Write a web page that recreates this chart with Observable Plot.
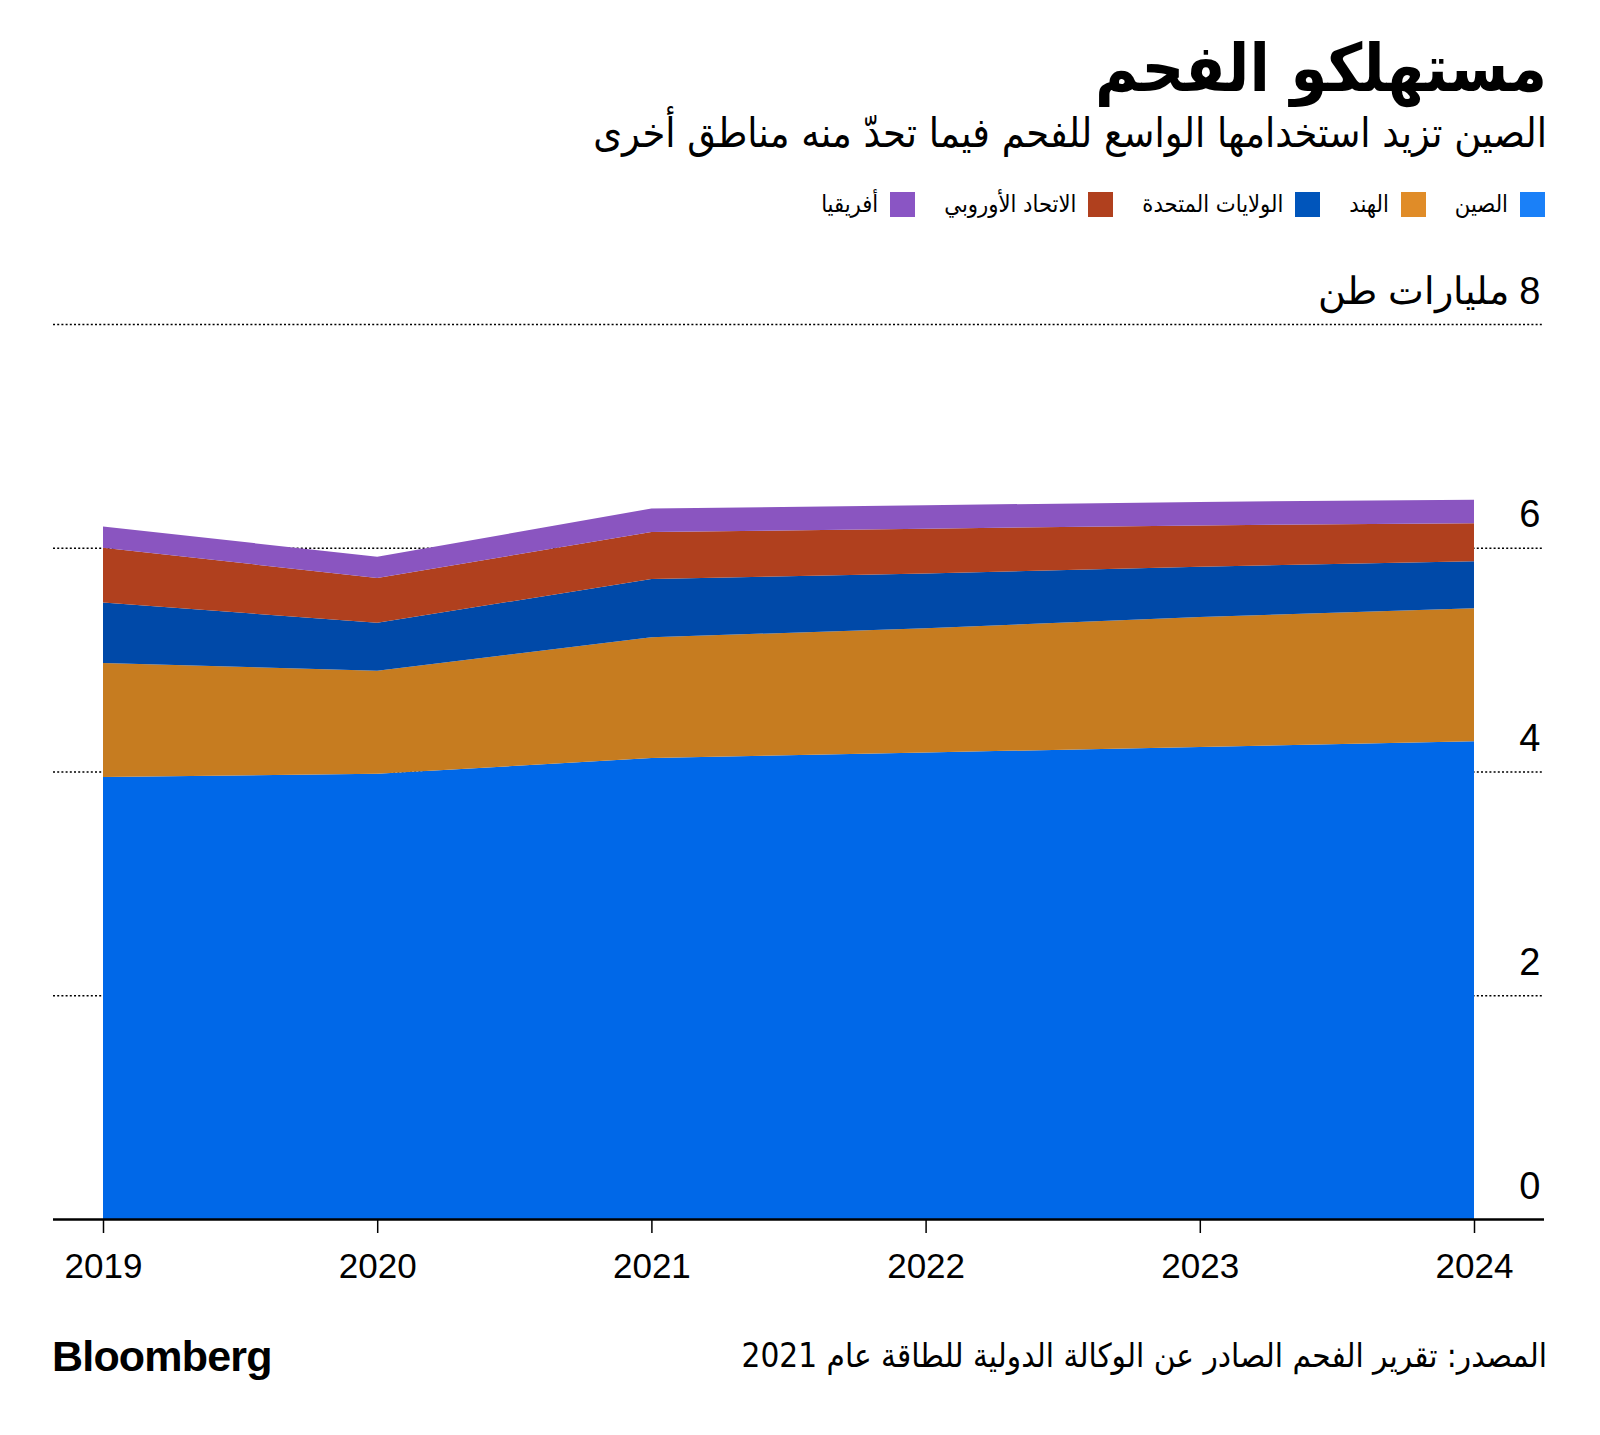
<!DOCTYPE html>
<html>
<head>
<meta charset="utf-8">
<script src="https://cdn.jsdelivr.net/npm/d3@7"></script>
<script src="https://cdn.jsdelivr.net/npm/@observablehq/plot@0.6"></script>
<style>
  html, body { margin: 0; padding: 0; background: #fff; }
  #wrap { position: relative; width: 1600px; height: 1435px; overflow: hidden; font-family: "Liberation Sans", "DejaVu Sans", sans-serif; color: #000; }
  .ar { font-family: "DejaVu Sans Condensed", "DejaVu Sans", sans-serif; direction: rtl; }
  #title { position: absolute; right: 53px; top: 36px; font-size: 66px; font-weight: bold; line-height: 1; white-space: nowrap; }
  #subtitle { position: absolute; right: 53px; top: 109px; font-size: 41px; line-height: 1.2; white-space: nowrap; }
  #legend { position: absolute; right: 55px; top: 190px; height: 28px; display: flex; flex-direction: row; align-items: center; gap: 29px; direction: rtl; }
  .item { display: flex; align-items: center; gap: 12px; font-size: 23.5px; white-space: nowrap; }
  .sw { width: 25px; height: 25px; display: inline-block; }
  #chart { position: absolute; left: 0; top: 240px; }
  #source { position: absolute; right: 53px; top: 1335px; font-size: 33px; line-height: 1.3; white-space: nowrap; }
  #logo { position: absolute; left: 52px; top: 1335px; font-family: "Liberation Sans", Arial, sans-serif; font-weight: bold; font-size: 43px; letter-spacing: -0.8px; line-height: 1; }
</style>
</head>
<body>
<div id="wrap">
  <div id="title" class="ar">مستهلكو الفحم</div>
  <div id="subtitle" class="ar">الصين تزيد استخدامها الواسع للفحم فيما تحدّ منه مناطق أخرى</div>
  <div id="legend"></div>
  <div id="chart"></div>
  <div id="logo">Bloomberg</div>
  <div id="source" class="ar">المصدر: تقرير الفحم الصادر عن الوكالة الدولية للطاقة عام 2021</div>
</div>
<script>
// ---- data (billion tonnes) ----
const years = [2019, 2020, 2021, 2022, 2023, 2024];
const seriesNames = ["الصين", "الهند", "الولايات المتحدة", "الاتحاد الأوروبي", "أفريقيا"];
const china  = [3.95, 3.98, 4.12, 4.17, 4.22, 4.27];
const india  = [1.02, 0.92, 1.08, 1.11, 1.16, 1.19];
const us     = [0.54, 0.43, 0.52, 0.49, 0.45, 0.42];
const eu     = [0.49, 0.40, 0.42, 0.40, 0.37, 0.34];
const africa = [0.19, 0.19, 0.21, 0.21, 0.21, 0.21];
const yTicks = [0, 2, 4, 6, 8];
const unitLabel = "مليارات طن";

// ---- styles ----
const areaColors   = ["#0068e8", "#c67c20", "#0049a8", "#b0401e", "#8a55c0"];
const legendColors = ["#1a80f8", "#e08c28", "#0055bb", "#b0401e", "#8a55c4"];

const seriesValues = [china, india, us, eu, africa];
const data = [];
seriesNames.forEach((name, i) => {
  years.forEach((yr, j) => data.push({ series: name, year: yr, value: seriesValues[i][j] }));
});

// legend
const legend = document.getElementById("legend");
seriesNames.forEach((name, i) => {
  const it = document.createElement("div");
  it.className = "item ar";
  const sw = document.createElement("span");
  sw.className = "sw";
  sw.style.background = legendColors[i];
  const tx = document.createElement("span");
  tx.textContent = name;
  it.appendChild(sw);
  it.appendChild(tx);
  legend.appendChild(it);
});

const plot = Plot.plot({
  width: 1600,
  height: 1080,
  marginTop: 84,
  marginBottom: 101,
  marginLeft: 103,
  marginRight: 126,
  style: { fontFamily: "'Liberation Sans', Arial, sans-serif", background: "transparent", overflow: "visible" },
  x: { type: "linear", domain: [years[0], years[years.length - 1]] },
  y: { domain: [0, 8] },
  color: { domain: seriesNames, range: areaColors },
  marks: [
    Plot.ruleY(yTicks.filter(d => d > 0), {
      stroke: "#000", strokeWidth: 1.6, strokeDasharray: "2,2.2",
      insetLeft: -50, insetRight: -70
    }),
    Plot.areaY(data, Plot.stackY({
      x: "year", y: "value", z: "series", fill: "series", order: seriesNames
    })),
    Plot.ruleY([0], { stroke: "#000", strokeWidth: 2.5, insetLeft: -50, insetRight: -70 }),
    Plot.axisX({
      ticks: years, tickFormat: d => String(d), tickSize: 14, tickPadding: 20,
      fontSize: 35, stroke: "#000", strokeWidth: 1.5, label: null, color: "#000"
    }),
    Plot.axisY({
      anchor: "right", ticks: yTicks,
      tickFormat: d => d === 8 ? "\u202B" + d + " " + unitLabel + "\u202C" : String(d),
      tickSize: 0, tickPadding: 66, textAnchor: "end", dy: -33,
      fontSize: 38, label: null, color: "#000"
    })
  ]
});
document.getElementById("chart").appendChild(plot);
</script>
</body>
</html>
